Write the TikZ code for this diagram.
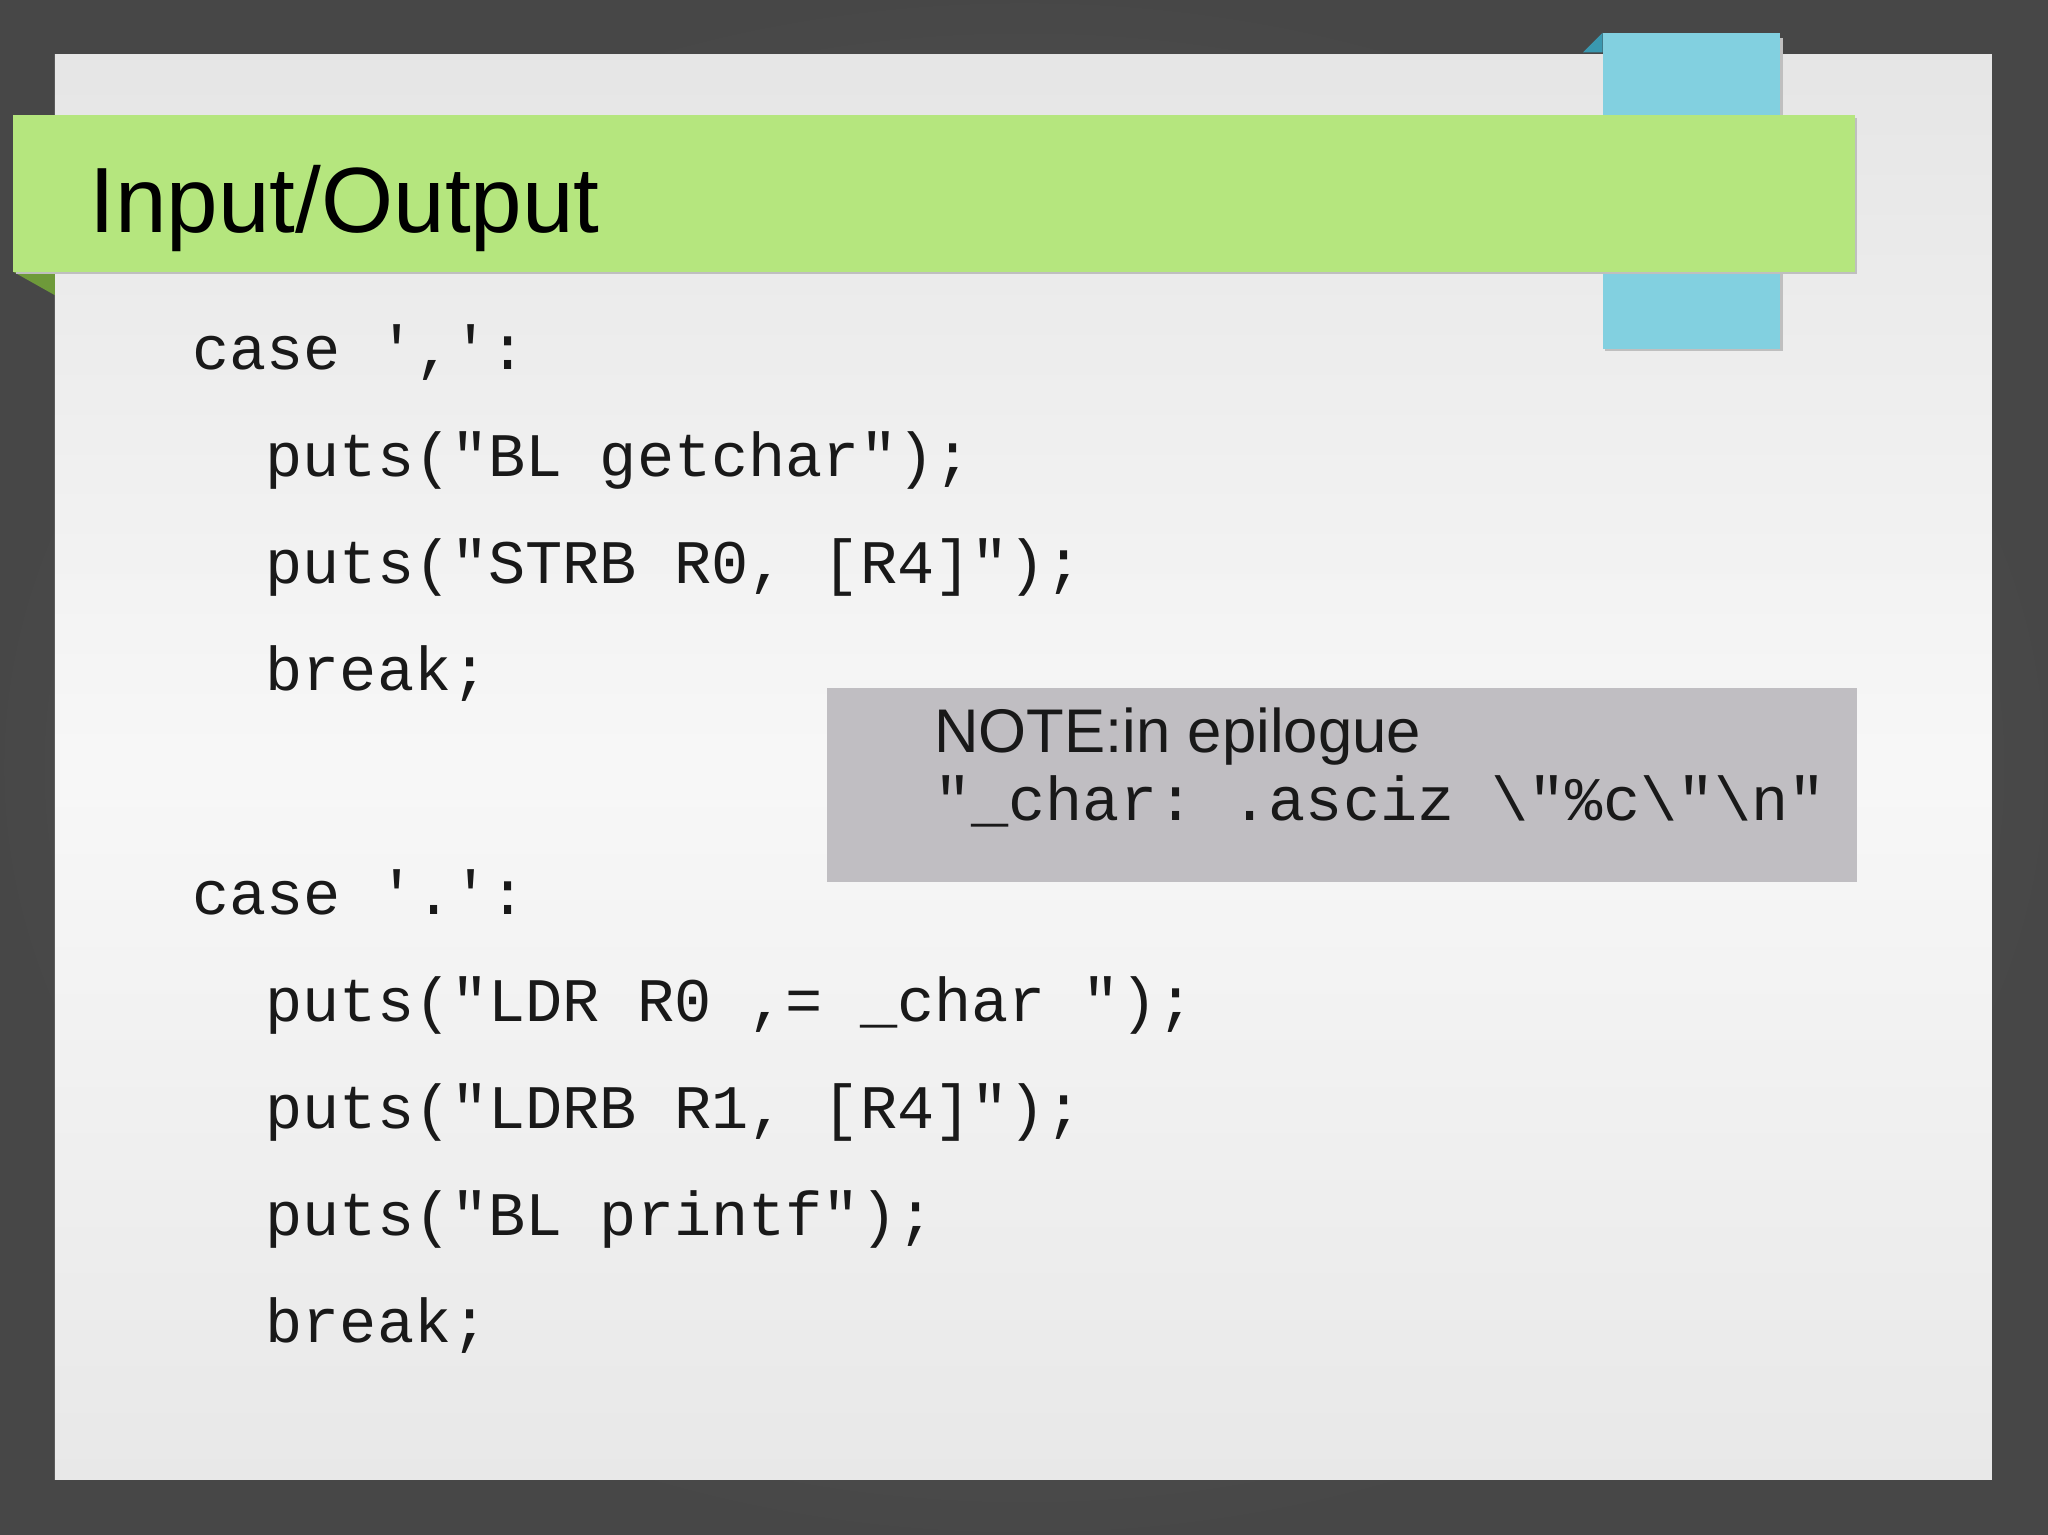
\documentclass[tikz,border=0pt]{standalone}
\usepackage{fontspec}
\setmainfont{Liberation Sans}
\setmonofont{Liberation Mono}
\definecolor{barg}{HTML}{B5E67E}
\definecolor{foldg}{HTML}{6E9A3A}
\definecolor{tabb}{HTML}{82D0E0}
\definecolor{tabd}{HTML}{3A98B0}
\definecolor{notec}{HTML}{C0BEC2}
\begin{document}
\begin{tikzpicture}[x=0.5pt,y=-0.5pt,
  code/.style={anchor=base west,inner sep=0pt,font=\fontsize{23.7}{28}\ttfamily,text=black!90},
  note/.style={anchor=base west,inner sep=0pt,font=\fontsize{23.6}{28}\selectfont,text=black!90}]
\useasboundingbox (0,0) rectangle (1568,1175);
\shade[inner color=black!62,outer color=black!72] (0,0) rectangle (1568,1175);
\shade[top color=black!10,bottom color=black!9,middle color=black!3] (42,42) rectangle (1525,1133);
% blue tab
\fill[tabd] (1212,40) -- (1227,25) -- (1227,40) -- cycle;
\fill[black!25] (1229,29) rectangle (1365,269);
\fill[tabb] (1227,25) rectangle (1363,267);
% green bar
\fill[foldg] (10,208) -- (42,226) -- (42,208) -- cycle;
\fill[black!25] (12,90) rectangle (1422,210);
\fill[barg] (10,88) rectangle (1420,208);
\node[anchor=base west,inner sep=0pt,font=\fontsize{35.5}{40}\selectfont] (title) at (68,178) {Input/Output};
% code
\node[code] (c1) at (147,283) {case ',':};
\node[code] (c2) at (203,365) {puts("BL getchar");};
\node[code] (c3) at (203,447) {puts("STRB R0, [R4]");};
\node[code] (c4) at (203,529) {break;};
\node[code] (c5) at (147,700) {case '.':};
\node[code] (c6) at (203,782) {puts("LDR R0 ,= \_char ");};
\node[code] (c7) at (203,864) {puts("LDRB R1, [R4]");};
\node[code] (c8) at (203,946) {puts("BL printf");};
\node[code] (c9) at (203,1028) {break;};
% note
\fill[notec] (633,527) rectangle (1422,675);
\node[note] (n1) at (715,576) {NOTE:in epilogue};
\node[code] (n2) at (715,628) {"\_char: .asciz \textbackslash"\%c\textbackslash"\textbackslash n"};
\end{tikzpicture}
\end{document}
